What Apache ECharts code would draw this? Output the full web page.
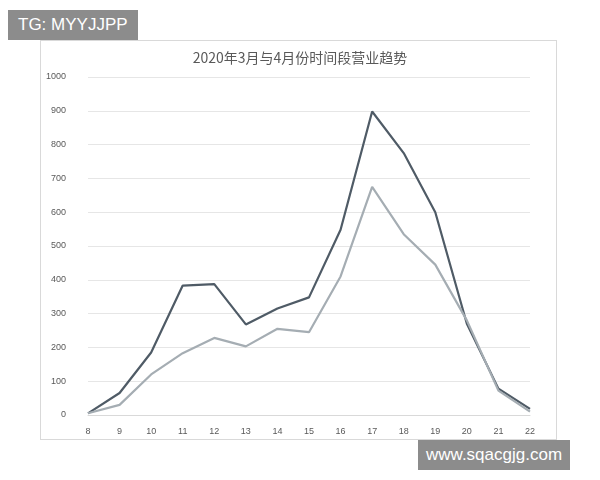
<!DOCTYPE html>
<html>
<head>
<meta charset="utf-8">
<script src="https://cdn.jsdelivr.net/npm/echarts@6/dist/echarts.min.js"></script>
<style>
  body { margin: 0; background: #fff; }
  #main { width: 600px; height: 480px; }
  .frame { position: absolute; left: 40px; top: 40px; width: 515px; height: 398px; border: 1px solid #d9d9d9; }
  .tag { position: absolute; background: #8c8c8c; color: #fff; font-family: "Liberation Sans", Arial, sans-serif; font-size: 17px; }
</style>
</head>
<body>
<div class="frame"></div>
<div id="main" style="position:absolute;left:0;top:0"></div>
<div class="tag" style="left:8px;top:10px;padding:5px 10px;">TG: MYYJJPP</div>
<div class="tag" style="left:418px;top:440px;padding:5px 8px;">www.sqacgjg.com</div>
<script>
const hours = ['8', '9', '10', '11', '12', '13', '14', '15', '16', '17', '18', '19', '20', '21', '22'];
const march = [5, 65, 185, 383, 387, 268, 315, 348, 548, 898, 775, 600, 270, 78, 18];
const april = [5, 30, 120, 183, 228, 203, 255, 245, 410, 675, 535, 445, 280, 72, 10];

const chart = echarts.init(document.getElementById('main'));
chart.setOption({
  animation: false,
  title: {
    text: '2020年3月与4月份时间段营业趋势',
    left: 'center', top: 46,
    textStyle: { fontSize: 14, fontWeight: 'normal', color: '#595959', fontFamily: 'Noto Sans CJK SC' }
  },
  grid: { left: 88, right: 70, top: 77, bottom: 65 },
  xAxis: {
    type: 'category', data: hours, boundaryGap: false,
    axisLine: { lineStyle: { color: '#d9d9d9' } },
    axisTick: { show: false },
    axisLabel: { color: '#595959', fontSize: 9, margin: 12 }
  },
  yAxis: {
    type: 'value', min: 0, max: 1000, interval: 100,
    axisLine: { show: false }, axisTick: { show: false },
    axisLabel: { color: '#595959', fontSize: 9, margin: 22, formatter: v => String(v) },
    splitLine: { lineStyle: { color: '#e6e6e6' } }
  },
  series: [
    { name: '3月', type: 'line', data: march, symbol: 'none', lineStyle: { color: '#4f5b66', width: 2.2 } },
    { name: '4月', type: 'line', data: april, symbol: 'none', lineStyle: { color: '#a5adb3', width: 2.2 } }
  ]
});
</script>
</body>
</html>
